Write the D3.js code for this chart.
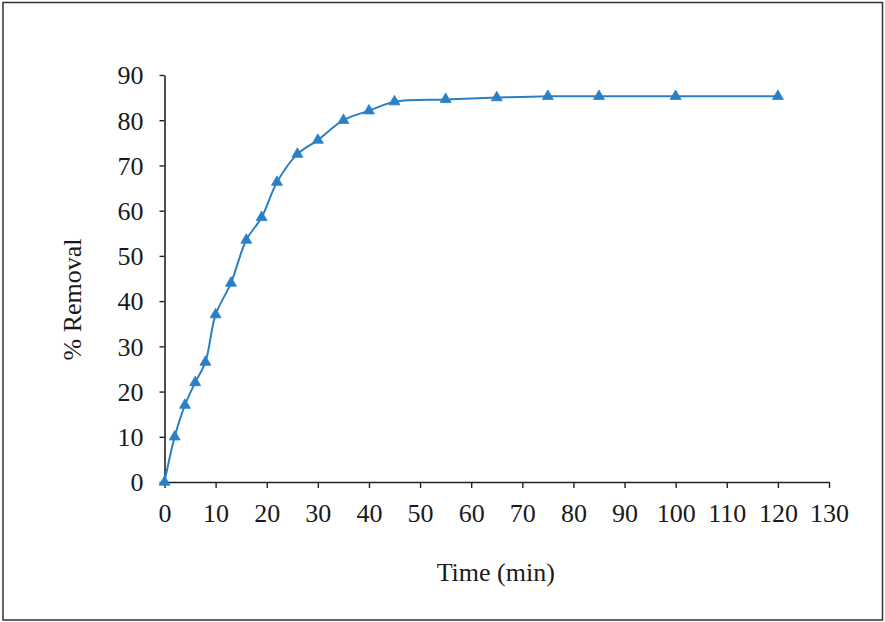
<!DOCTYPE html>
<html>
<head>
<meta charset="utf-8">
<script src="https://cdn.jsdelivr.net/npm/d3@7/dist/d3.min.js"></script>
<style>
  html, body { margin: 0; padding: 0; background: #ffffff; }
  svg { display: block; }
  text { font-family: "Liberation Serif", "Times New Roman", serif; fill: #1a1a1a; }
</style>
</head>
<body>
<div id="chart"></div>
<script>
// Contact time (min) and removal efficiency (%)
const timeMin = [0, 2, 4, 6, 8, 10, 13, 16, 19, 22, 26, 30, 35, 40, 45, 55, 65, 75, 85, 100, 120];
const removalPct = [0, 10, 17, 22, 26.5, 37, 44, 53.5, 58.5, 66.3, 72.5, 75.6, 80, 82.1, 84.1, 84.6, 85, 85.3, 85.3, 85.3, 85.3];
const xTicks = [0, 10, 20, 30, 40, 50, 60, 70, 80, 90, 100, 110, 120, 130];
const yTicks = [0, 10, 20, 30, 40, 50, 60, 70, 80, 90];
const xTitle = "Time (min)";
const yTitle = "% Removal";

const W = 885, H = 622;
const plot = { left: 164.5, right: 829, top: 75, bottom: 482 };
const blue = "#2a80c6";
const axisColor = "#222222";
const fontSize = "26px";

const svg = d3.select("#chart").append("svg")
  .attr("width", W).attr("height", H);

svg.append("rect").attr("width", W).attr("height", H).attr("fill", "#ffffff");

// outer frame
svg.append("rect")
  .attr("x", 3).attr("y", 2.5)
  .attr("width", W - 5.5).attr("height", H - 4.5)
  .attr("fill", "none").attr("stroke", "#333").attr("stroke-width", 1.5);

const x = d3.scaleLinear().domain([0, 130]).range([plot.left, plot.right]);
const y = d3.scaleLinear().domain([0, 90]).range([plot.bottom, plot.top]);

// x axis
const gx = svg.append("g")
  .attr("transform", `translate(0,${plot.bottom})`)
  .call(d3.axisBottom(x).tickValues(xTicks).tickSize(6).tickSizeOuter(0).tickFormat(d3.format("d")));
gx.select(".domain").attr("stroke", axisColor).attr("stroke-width", 1.6);
gx.selectAll(".tick line").attr("stroke", axisColor).attr("stroke-width", 1.4);
gx.selectAll(".tick text")
  .attr("y", 40).attr("dy", 0)
  .style("font-family", '"Liberation Serif", serif')
  .style("font-size", fontSize).attr("fill", "#1a1a1a");

// y axis
const gy = svg.append("g")
  .attr("transform", `translate(${plot.left},0)`)
  .call(d3.axisLeft(y).tickValues(yTicks).tickSize(5).tickSizeOuter(0).tickFormat(d3.format("d")));
gy.select(".domain").attr("stroke", axisColor).attr("stroke-width", 1.6);
gy.selectAll(".tick line").attr("stroke", axisColor).attr("stroke-width", 1.4);
gy.selectAll(".tick text")
  .attr("x", -21).attr("dy", "0.34em")
  .style("font-family", '"Liberation Serif", serif')
  .style("font-size", fontSize).attr("fill", "#1a1a1a");

// axis titles
svg.append("text")
  .attr("x", (plot.left + plot.right) / 2 - 1).attr("y", 581)
  .attr("text-anchor", "middle")
  .style("font-size", fontSize)
  .text(xTitle);

svg.append("text")
  .attr("transform", `translate(81,${(plot.top + plot.bottom) / 2 + 21}) rotate(-90)`)
  .attr("text-anchor", "middle")
  .style("font-size", fontSize)
  .text(yTitle);

// smoothed series line
const pts = timeMin.map((t, i) => [t, removalPct[i]]);
const line = d3.line()
  .x(d => x(d[0])).y(d => y(d[1]))
  .curve(d3.curveCatmullRom.alpha(0.5));

svg.append("path")
  .datum(pts)
  .attr("d", line)
  .attr("fill", "none")
  .attr("stroke", blue)
  .attr("stroke-width", 2);

// triangle markers
const tri = d3.symbol().type(d3.symbolTriangle).size(52);
svg.append("g").selectAll("path")
  .data(pts)
  .join("path")
  .attr("d", tri)
  .attr("transform", d => `translate(${x(d[0])},${y(d[1])})`)
  .attr("fill", blue)
  .attr("stroke", blue)
  .attr("stroke-width", 0.8);
</script>
</body>
</html>
